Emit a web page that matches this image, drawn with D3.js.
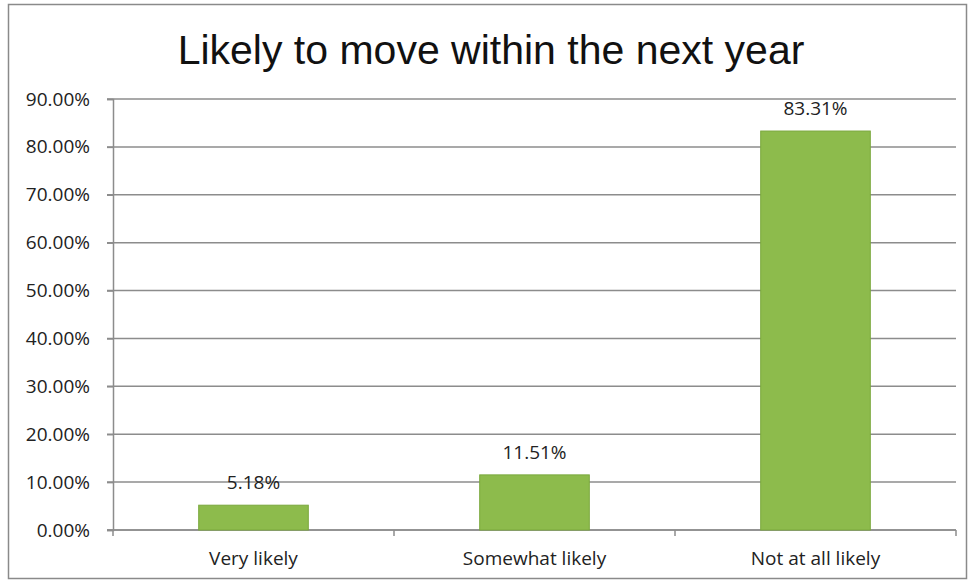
<!DOCTYPE html>
<html>
<head>
<meta charset="utf-8">
<script src="https://cdn.jsdelivr.net/npm/d3@7"></script>
<style>
  html, body { margin: 0; padding: 0; background: #fff; }
  svg { display: block; }
</style>
</head>
<body>
<svg id="chart" width="969" height="584"></svg>
<script>
// Survey responses: likelihood of moving within the next year
const categories = ["Very likely", "Somewhat likely", "Not at all likely"];
const values = [5.18, 11.51, 83.31];
const yTicks = [0, 10, 20, 30, 40, 50, 60, 70, 80, 90];
const titleText = "Likely to move within the next year";

const svg = d3.select("#chart");
const W = 969, H = 584;
const margin = { left: 113, right: 13, top: 99, bottom: 54 };
const labelFont = "Open Sans, Noto Sans, sans-serif";
const labelSize = 19;

// chart frame
svg.append("rect")
  .attr("x", 8.5).attr("y", 4.5)
  .attr("width", 958).attr("height", 574)
  .attr("fill", "#fff")
  .attr("stroke", "#8a8a8a")
  .attr("stroke-width", 1.5);

svg.append("text")
  .attr("x", 491).attr("y", 64)
  .attr("text-anchor", "middle")
  .attr("font-family", "Liberation Sans, Arial, sans-serif")
  .attr("font-size", 41)
  .attr("fill", "#111")
  .text(titleText);

const x = d3.scaleBand()
  .domain(categories)
  .range([margin.left, W - margin.right])
  .paddingInner(0.61)
  .paddingOuter(0.305);

const y = d3.scaleLinear()
  .domain([0, 90])
  .range([H - margin.bottom, margin.top]);

// horizontal gridlines
svg.append("g")
  .selectAll("line")
  .data(yTicks)
  .join("line")
  .attr("x1", margin.left - 6)
  .attr("x2", W - margin.right)
  .attr("y1", d => y(d))
  .attr("y2", d => y(d))
  .attr("stroke", "#8c8c8c")
  .attr("stroke-width", 1.5);

// y axis
const yAxis = svg.append("g")
  .attr("transform", `translate(${margin.left},0)`)
  .call(d3.axisLeft(y).tickValues(yTicks).tickSize(6).tickPadding(17)
    .tickFormat(d => d3.format(".2f")(d) + "%"));
yAxis.select(".domain").attr("stroke", "#8c8c8c").attr("stroke-width", 1.5);
yAxis.selectAll(".tick line").attr("stroke", "#8c8c8c").attr("stroke-width", 1.5);
yAxis.selectAll("text")
  .attr("font-family", labelFont)
  .attr("font-size", labelSize)
  .attr("fill", "#222");

// x axis with ticks at category boundaries
const xAxisG = svg.append("g")
  .attr("transform", `translate(0,${y(0)})`);
const step = x.step();
const boundaries = d3.range(categories.length + 1).map(i => margin.left + i * step);
xAxisG.append("line")
  .attr("x1", margin.left - 6).attr("x2", W - margin.right)
  .attr("y1", 0).attr("y2", 0)
  .attr("stroke", "#8c8c8c").attr("stroke-width", 1.5);
xAxisG.selectAll(".btick")
  .data(boundaries)
  .join("line")
  .attr("class", "btick")
  .attr("x1", d => d).attr("x2", d => d)
  .attr("y1", 0).attr("y2", 6)
  .attr("stroke", "#8c8c8c").attr("stroke-width", 1.5);
xAxisG.selectAll(".clabel")
  .data(categories)
  .join("text")
  .attr("class", "clabel")
  .attr("x", d => x(d) + x.bandwidth() / 2)
  .attr("y", 35)
  .attr("text-anchor", "middle")
  .attr("font-family", labelFont)
  .attr("font-size", labelSize)
  .attr("fill", "#222")
  .text(d => d);

// bars
svg.append("g")
  .selectAll("rect")
  .data(values)
  .join("rect")
  .attr("x", (d, i) => x(categories[i]))
  .attr("y", d => y(d))
  .attr("width", x.bandwidth())
  .attr("height", d => y(0) - y(d))
  .attr("fill", "#8dbb4c")
  .attr("stroke", "#7aa83d")
  .attr("stroke-width", 1);

// value labels
svg.append("g")
  .selectAll("text")
  .data(values)
  .join("text")
  .attr("x", (d, i) => x(categories[i]) + x.bandwidth() / 2)
  .attr("y", d => y(d) - 16)
  .attr("text-anchor", "middle")
  .attr("font-family", labelFont)
  .attr("font-size", labelSize)
  .attr("fill", "#222")
  .text(d => d.toFixed(2) + "%");
</script>
</body>
</html>
